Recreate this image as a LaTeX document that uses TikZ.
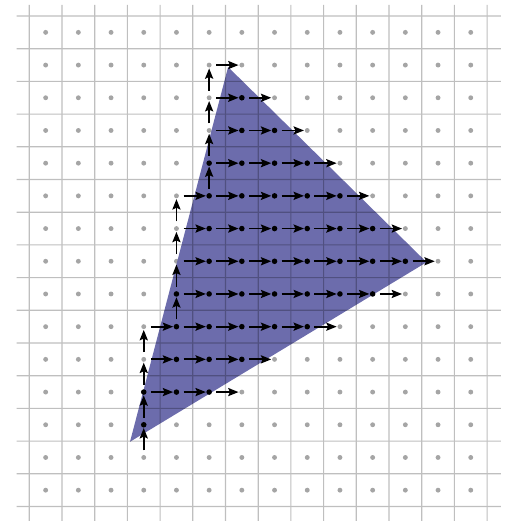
\documentclass[tikz,border=0pt]{standalone}
\usetikzlibrary{arrows.meta}
\definecolor{tri}{RGB}{108,108,172}
\definecolor{gdot}{RGB}{165,165,165}
\tikzset{
  gridline/.style={line width=1pt, black},
  stepArrow/.style={line width=1.6pt, -{Stealth[length=9pt,width=7pt,inset=1.5pt]}, shorten <=0.22cm, shorten >=0.1cm},
  blackdot/.style={fill=black},
  greydot/.style={fill=gdot},
}
\begin{document}
\begin{tikzpicture}
\useasboundingbox (-0.896,-0.443) rectangle (14.639,15.49);
% pixel centres
\foreach \i in {0,...,13}{\foreach \j in {0,...,14}{\coordinate (p-\i-\j) at (\i+0.5,\j+0.5);}}
% grey sample dots
\foreach \i in {0,...,13}{\foreach \j in {0,...,14}{\fill[greydot] (p-\i-\j) circle (0.075);}}
% triangle
\coordinate (A) at (3.08,1.98);
\coordinate (B) at (6.08,13.44);
\coordinate (C) at (12.15,7.47);
\fill[tri] (A) -- (B) -- (C) -- cycle;
% grid
\begin{scope}[transparency group, opacity=0.25]
\foreach \x in {0,...,14}{\draw[gridline] (\x,-0.45) -- (\x,15.34);}
\foreach \y in {0,...,15}{\draw[gridline] (-0.385,\y) -- (14.42,\y);}
\end{scope}
% vertical steps
\foreach \c/\a/\b in {3/1/5, 4/5/9, 5/9/13}{
  \pgfmathtruncatemacro\bm{\b-1}
  \foreach \j in {\a,...,\bm}{
    \pgfmathtruncatemacro\n{\j+1}
    \draw[stepArrow] (p-\c-\j) -- (p-\c-\n);
  }
}
% horizontal steps
\foreach \r/\s/\e in {3/3/6,4/3/7,5/3/9,6/4/11,7/4/12,8/4/11,9/4/10,10/5/9,11/5/8,12/5/7,13/5/6}{
  \pgfmathtruncatemacro\em{\e-1}
  \foreach \i in {\s,...,\em}{
    \pgfmathtruncatemacro\n{\i+1}
    \draw[stepArrow] (p-\i-\r) -- (p-\n-\r);
  }
}
% covered pixel centres
\foreach \r/\a/\b in {2/3/3,3/3/5,4/4/6,5/4/8,6/4/10,7/5/11,8/5/10,9/5/9,10/5/8,11/6/7,12/6/6}{
  \foreach \i in {\a,...,\b}{\fill[blackdot] (p-\i-\r) circle (0.085);}
}
\end{tikzpicture}
\end{document}
